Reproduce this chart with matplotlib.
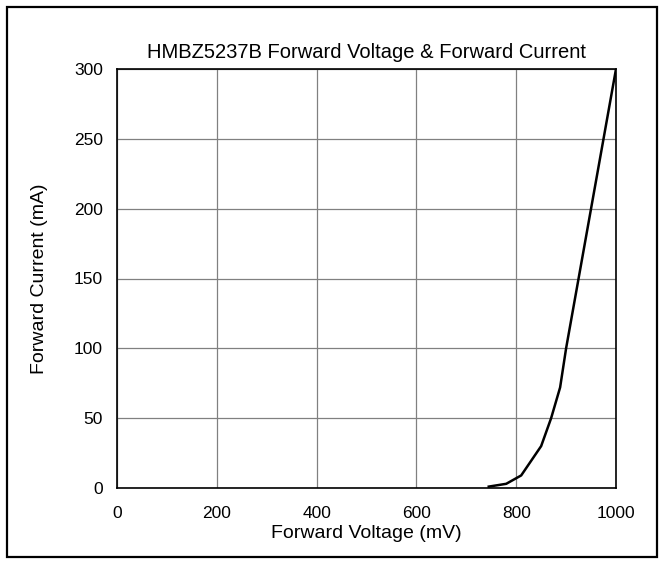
import matplotlib
matplotlib.use("Agg")
import matplotlib.pyplot as plt
from matplotlib.patches import Rectangle

plt.rcParams['font.family'] = ['Liberation Sans', 'DejaVu Sans']

voltage_mv = [745, 780, 795, 810, 850, 870, 888, 900, 925, 950, 975, 1000]
current_ma = [1, 3, 6, 9, 30, 50, 72, 100, 150, 200, 250, 300]
x_ticks = [0, 200, 400, 600, 800, 1000]
y_ticks = [0, 50, 100, 150, 200, 250, 300]
title = "HMBZ5237B Forward Voltage & Forward Current"
x_label = "Forward Voltage (mV)"
y_label = "Forward Current (mA)"

fig = plt.figure(figsize=(6.66, 5.67), dpi=100)
fig.patches.append(Rectangle((7/666, 1-557/567), 650/666, 550/567,
                             transform=fig.transFigure, fill=False,
                             edgecolor='black', linewidth=1.6))
ax = fig.add_axes([117/666, 1-488/567, 499/666, 419/567])
ax.plot(voltage_mv, current_ma, color='black', linewidth=1.8)
ax.set_xlim(0, 1000)
ax.set_ylim(0, 300)
ax.set_xticks(x_ticks)
ax.set_yticks(y_ticks)
ax.grid(True, color='#808080', linewidth=0.9)
ax.set_axisbelow(True)
ax.tick_params(axis='both', length=0, labelsize=12.5)
ax.tick_params(axis='x', pad=13)
ax.tick_params(axis='y', pad=10)
for s in ax.spines.values():
    s.set_color('black')
    s.set_linewidth(1.2)
ax.set_title(title, fontsize=14.5, pad=8)
ax.set_xlabel(x_label, fontsize=14, labelpad=3)
ax.set_ylabel(y_label, fontsize=14, labelpad=19)
fig.savefig("out.png", dpi=100)
